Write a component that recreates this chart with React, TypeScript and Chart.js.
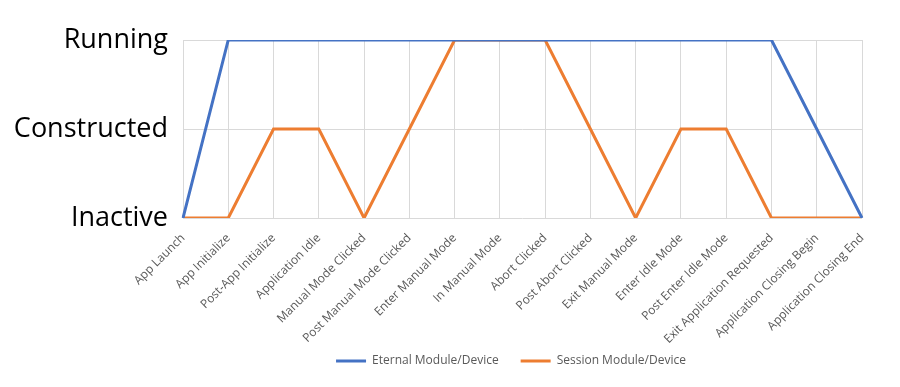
import React, { useEffect, useRef } from "react";
import { Chart, registerables } from "chart.js";

Chart.register(...registerables);

const categories = [
  "App Launch",
  "App Initialize",
  "Post-App Initialize",
  "Application Idle",
  "Manual Mode Clicked",
  "Post Manual Mode Clicked",
  "Enter Manual Mode",
  "In Manual Mode",
  "Abort Clicked",
  "Post Abort Clicked",
  "Exit Manual Mode",
  "Enter Idle Mode",
  "Post Enter Idle Mode",
  "Exit Application Requested",
  "Application Closing Begin",
  "Application Closing End",
];

const stateLabels = ["Inactive", "Constructed", "Running"];

const eternalValues = [0, 2, 2, 2, 2, 2, 2, 2, 2, 2, 2, 2, 2, 2, 1, 0];
const sessionValues = [0, 0, 1, 1, 0, 1, 2, 2, 2, 1, 0, 1, 1, 0, 0, 0];

const seriesNames = ["Eternal Module/Device", "Session Module/Device"];

const legendShift = {
  id: "legendShift",
  beforeDraw(chart: any) {
    if (chart.legend) {
      chart.legend.left = 160;
      chart.legend.top = chart.legend.bottom - chart.legend.height - 10;
    }
  },
};

export default function App() {
  const ref = useRef<HTMLCanvasElement | null>(null);

  useEffect(() => {
    document.body.style.margin = "0";
    const canvas = ref.current;
    if (!canvas) return;
    const chart = new Chart(canvas, {
      type: "line",
      data: {
        labels: categories,
        datasets: [
          {
            label: seriesNames[0],
            data: eternalValues,
            borderColor: "#4472C4",
            backgroundColor: "#4472C4",
            borderWidth: 3,
            pointRadius: 0,
            pointStyle: "line",
            tension: 0,
          },
          {
            label: seriesNames[1],
            data: sessionValues,
            borderColor: "#ED7D31",
            backgroundColor: "#ED7D31",
            borderWidth: 3,
            pointRadius: 0,
            pointStyle: "line",
            tension: 0,
          },
        ],
      },
      plugins: [legendShift],
      options: {
        responsive: false,
        animation: false,
        layout: { padding: { top: 40, right: 38, bottom: 0, left: 0 } },
        plugins: {
          legend: {
            position: "bottom",
            labels: {
              usePointStyle: true,
              pointStyleWidth: 30,
              boxHeight: 12,
              color: "#595959",
              padding: 22,
              font: { family: "'Open Sans', sans-serif", size: 12 },
            },
          },
          tooltip: { enabled: false },
        },
        scales: {
          x: {
            offset: false,
            grid: { color: "#d9d9d9", drawTicks: false },
            border: { display: false },
            ticks: {
              autoSkip: false,
              maxRotation: 45,
              minRotation: 45,
              padding: 13,
              color: "#595959",
              font: { family: "'Open Sans', sans-serif", size: 12 },
            },
            afterFit: (scale: any) => {
              scale.height = 125;
            },
          },
          y: {
            min: 0,
            max: 2,
            grid: { color: "#d9d9d9", drawTicks: false },
            border: { display: false },
            ticks: {
              stepSize: 1,
              padding: 15,
              color: "#000000",
              font: { family: "'Open Sans', sans-serif", size: 27 },
              callback: (v: any) => stateLabels[Number(v)] ?? "",
            },
            afterFit: (scale: any) => {
              scale.width = 183;
            },
          },
        },
      },
    });
    return () => chart.destroy();
  }, []);

  return (
    <div style={{ width: 900, height: 387 }}>
      <canvas ref={ref} width={900} height={387} style={{ display: "block" }} />
    </div>
  );
}
